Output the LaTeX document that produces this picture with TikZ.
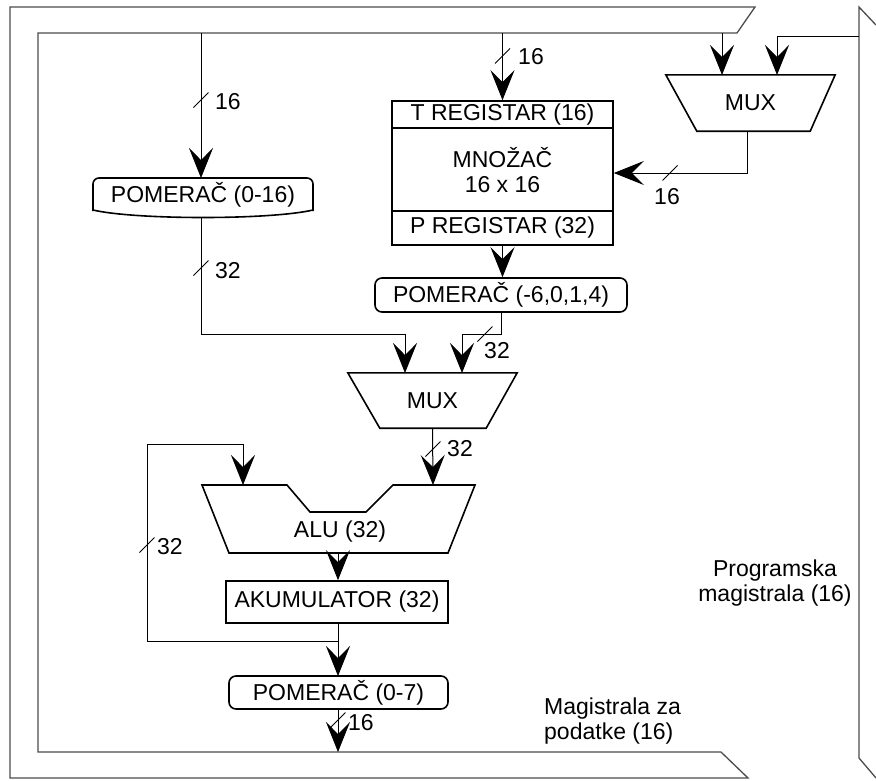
\documentclass[tikz,border=0pt]{standalone}
\usepackage{fontspec}
\setmainfont{Liberation Sans}
\usetikzlibrary{arrows.meta,calc}
\newcommand\dfont{\fontsize{23}{25}\selectfont}
\tikzset{
  conn/.style={line width=1pt, draw=black},
  arr/.style={conn, arrows={-Stealth[length=30pt,width=24pt,inset=12pt]}},
  bus/.style={line width=1.3pt, draw=black!70},
  blk/.style={draw=black, line width=1.6pt, inner sep=0pt, font=\dfont},
  lbl/.style={inner sep=0pt, font=\dfont},
  slash/.pic={\draw[line width=0.8pt] (-7.5,7.5) -- (7.5,-7.5);}
}
\begin{document}
\begin{tikzpicture}[x=1pt,y=-1pt]
\useasboundingbox (0,0) rectangle (876,780);
\fill[white] (0,0) rectangle (876,780);
% data bus and program bus
\draw[bus] (755,7) -- (10,7) -- (10,778) -- (748,778) -- (721,752) -- (38,752) -- (38,33) -- (737,33) -- cycle;
\draw[bus] (876,25) -- (859,7) -- (859,758) -- (876,778);
\coordinate (dA) at (201,33);
\coordinate (dT) at (502.5,33);
\coordinate (dM) at (722,33);
\coordinate (pB) at (859,36);
\coordinate (dB) at (338,752);

% POMERAC (0-16)
\node[lbl] (pomA) at (203,195) {POMERAČ (0-16)};
\draw[line width=1.6pt, rounded corners=6pt] (93,211) -- (93,178) -- (313,178) -- (313,211);
\draw[line width=1.6pt] (313,210) .. controls (270,220) and (136,220) .. (93,210);
\coordinate (pomAin) at (201,178);
\coordinate (pomAout) at (201,218);

% T register / multiplier / P register
\node[blk, minimum width=221pt, minimum height=144pt] (treg) at (502.5,173) {};
\draw[line width=1.6pt] (392,128) -- (613,128) (392,211) -- (613,211);
\node[lbl] (tlab) at (502.5,114.5) {T REGISTAR (16)};
\node[lbl, align=center] (mlab) at (502.5,170) {MNOŽAČ\\16 x 16};
\node[lbl] (plab) at (502.5,228) {P REGISTAR (32)};

% right MUX
\node[lbl, minimum width=169pt, minimum height=56pt] (muxR) at (750.5,103) {MUX};
\draw[line width=1.6pt] (muxR.north west) -- (muxR.north east) -- ($(muxR.south east)+(-25,0)$) -- ($(muxR.south west)+(31,0)$) -- cycle;
\coordinate (muxRout) at (747,131);
\coordinate (muxRin1) at (722,75);
\coordinate (muxRin2) at (777,75);

% POMERAC (-6,0,1,4)
\node[blk, rounded corners=7pt, minimum width=252pt, minimum height=34pt] (pomB) at (501,295) {POMERAČ (-6,0,1,4)};

% middle MUX
\node[lbl, minimum width=169pt, minimum height=55pt] (muxM) at (432.5,400.5) {MUX};
\draw[line width=1.6pt] (muxM.north west) -- (muxM.north east) -- ($(muxM.south east)+(-31,0)$) -- ($(muxM.south west)+(32,0)$) -- cycle;
\coordinate (mmL) at (405,373);
\coordinate (mmR) at (462,373);

% ALU
\node[lbl] (alu) at (340,532) {ALU (32)};
\draw[line width=1.6pt] (202,485) -- (287,485) -- (310,512) -- (366,512) -- (393,485) -- (475,485) -- (448,553) -- (229,553) -- cycle;
\coordinate (aluL) at (243,485);
\coordinate (aluR) at (433,485);
\coordinate (aluB) at (338,553);

% accumulator and output shifter
\node[blk, minimum width=222pt, minimum height=42pt] (akum) at (337,602) {AKUMULATOR (32)};
\node[blk, rounded corners=7pt, minimum width=219pt, minimum height=33pt] (pomC) at (338.5,692.5) {POMERAČ (0-7)};
\coordinate (fb) at (338,641);

% connectors
\draw[arr] (dA) -- (pomAin);
\draw[arr] (pomAout) -- (201,334) -| (mmL);
\draw[arr] (dT) -- (treg.north);
\draw[arr] (dM) -- (muxRin1);
\draw[arr] (pB) -| (muxRin2);
\draw[arr] (muxRout) |- (treg.east);
\draw[arr] (treg.south) -- (treg.south |- pomB.north);
\draw[arr] (pomB.south) -- (501,334) -| (mmR);
\draw[arr] (muxM.south) -- (aluR);
\draw[arr] (aluB) -- (aluB |- akum.north);
\draw[arr] (338,623) -- (338,676);
\draw[arr] (fb) -- (147,641) -- (147,444) -| (aluL);
\draw[arr] (338,709) -- (dB);

% bus width marks
\pic at (201,100) {slash};
\node[lbl] (w1) at (228,102) {16};
\pic at (502.5,56) {slash};
\node[lbl] (w2) at (531,57) {16};
\pic at (670,173) {slash};
\node[lbl] (w3) at (667,197) {16};
\pic at (201,268) {slash};
\node[lbl] (w4) at (228,271) {32};
\pic at (485,334) {slash};
\node[lbl] (w5) at (497,351) {32};
\pic at (433,449) {slash};
\node[lbl] (w6) at (460,449) {32};
\pic at (147,545) {slash};
\node[lbl] (w7) at (170,547) {32};
\pic at (338,720) {slash};
\node[lbl] (w8) at (361,723) {16};

% bus labels
\node[lbl, align=center] (pbus) at (775,583) {Programska\\magistrala (16)};
\node[lbl, align=left, anchor=west] (dbus) at (544,721) {Magistrala za\\podatke (16)};
\end{tikzpicture}
\end{document}
